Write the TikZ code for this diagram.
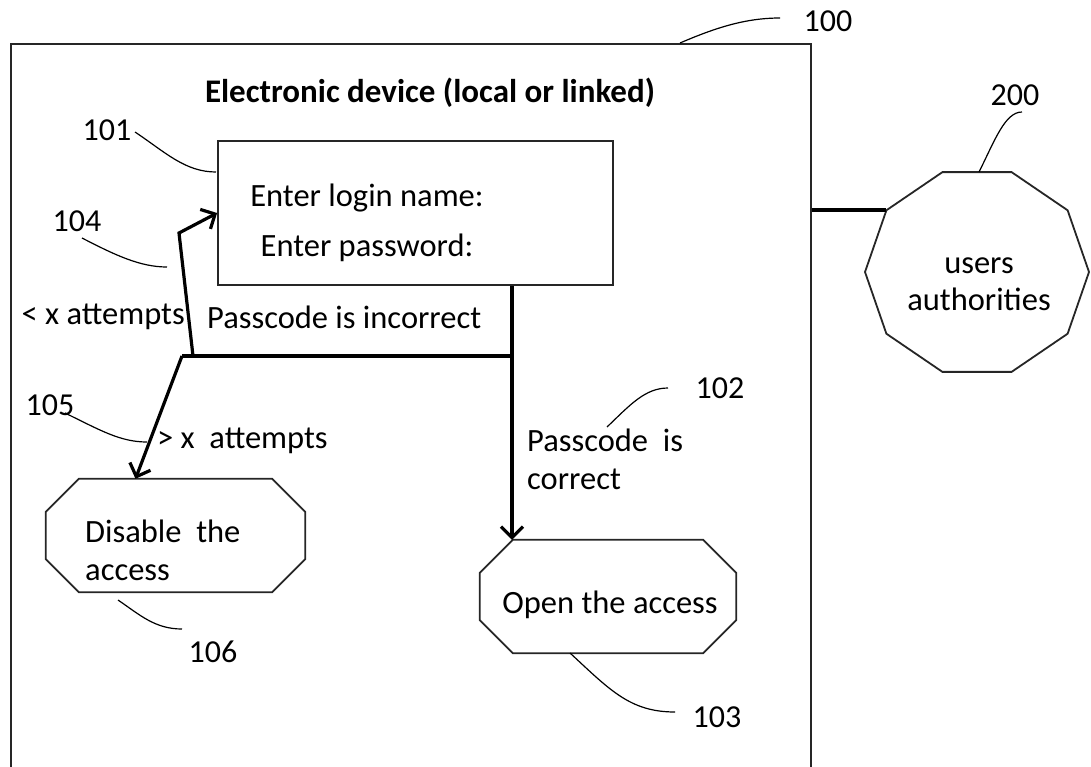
\documentclass[tikz,border=0pt]{standalone}
\usepackage{fontspec}
\setmainfont{Carlito}
\usetikzlibrary{calc,arrows.meta}

\tikzset{
  txt/.style={font=\fontsize{32.5}{50}\selectfont, inner sep=0pt},
  txtl/.style={font=\fontsize{32.5}{38}\selectfont, inner sep=0pt, align=left, anchor=west},
  refnum/.style={font=\fontsize{32}{36}\selectfont, inner sep=0pt},
  box/.style={draw=black!85, line width=1.8pt, fill=white},
  octo/.style={inner sep=0pt},
  flow/.style={line width=3.2pt, -{Straight Barb[length=11pt,width=22pt]}},
  joint/.style={line width=3.2pt},
  link/.style={line width=4pt},
  leader/.style={line width=1.2pt}
}
% octagon drawn round a node, #2 = size of the cut corners
\newcommand\chamferbox[2]{%
  \draw[box] ([xshift=#2]#1.north west) -- ([xshift=-#2]#1.north east)
    -- ([yshift=-#2]#1.north east) -- ([yshift=#2]#1.south east)
    -- ([xshift=-#2]#1.south east) -- ([xshift=#2]#1.south west)
    -- ([yshift=#2]#1.south west) -- ([yshift=-#2]#1.north west) -- cycle;}

\begin{document}
\begin{tikzpicture}[x=1pt, y=-1pt]
  \useasboundingbox (0,0) rectangle (1091,766);
  % device frame (its bottom edge runs off the page)
  \node[box, fill=none, minimum width=800pt, minimum height=800pt, anchor=north west] (device) at (10,43) {};
  \node[txt, font=\fontsize{33}{40}\selectfont\bfseries] (devtitle) at (430,93) {Electronic device (local or linked)};
  % login box
  \node[box, minimum width=395pt, minimum height=144pt] (login) at (415.5,213) {};
  \node[txt, align=center] (prompt) at (367,223) {Enter login name:\\Enter password:};
  % outcomes
  \node[octo, minimum width=259pt, minimum height=113pt] (disable) at (175.5,535.5) {};
  \chamferbox{disable}{33pt}
  \node[txtl] (disabletxt) at (85,550) {Disable\ \ the\\access};
  \node[octo, minimum width=256pt, minimum height=113pt] (open) at (608,596.5) {};
  \chamferbox{open}{33pt}
  \node[txt] (opentxt) at (610,605) {Open the access};
  % users authorities
  \coordinate (auth) at (977,272);
  \draw[box] ([shift={(0:112pt and 105pt)}]auth) \foreach \a in {36,72,...,324}{ -- ([shift={(\a:112pt and 105pt)}]auth)} -- cycle;
  \node[txt, font=\fontsize{32.5}{37}\selectfont, align=center] (authtxt) at (979,284) {users\\authorities};
  \coordinate (authv) at ([shift={(144:112pt and 105pt)}]auth);

  % flow lines
  \coordinate (jl) at (182,356);
  \coordinate (jr) at (512,356);
  \coordinate (ju) at (193,356);
  \coordinate (bend) at (179,233);
  \draw[joint] (jl) -- (jr);
  \draw[flow] (login.south -| jr) -- (jr |- open.north);
  \draw[flow] (ju) -- (bend) -- (login.west);
  \draw[flow] (jl) -- ([xshift=-40pt]disable.north);
  \draw[link] (device.east |- authv) -- (authv);
  % flow labels
  \node[txt, anchor=east] (fewer) at (185,317) {< x attempts};
  \node[txt, anchor=west] (wrong) at (207,317) {Passcode is incorrect};
  \node[txt, anchor=west] (more) at (157,441) {> x\ \ attempts};
  \node[txtl] (right) at (527,459) {Passcode\ \ is\\correct};

  % reference numerals
  \node[refnum] (r100) at (828,21) {100};
  \node[refnum] (r101) at (107,130) {101};
  \node[refnum] (r102) at (720,388) {102};
  \node[refnum] (r103) at (717,717) {103};
  \node[refnum] (r104) at (77,221) {104};
  \node[refnum] (r105) at (50,405) {105};
  \node[refnum] (r106) at (213,652) {106};
  \node[refnum] (r200) at (1015,95) {200};
  % leaders
  \draw[leader] (680,43) .. controls (715,28) and (745,18) .. (780,18);
  \draw[leader] (135,132) .. controls (165,152) and (185,172) .. (216,172);
  \draw[leader] (82,238) .. controls (115,255) and (140,267) .. (167,267);
  \draw[leader] (65,413) .. controls (100,430) and (120,442) .. (147,442);
  \draw[leader] (118,600) .. controls (140,615) and (155,629) .. (182,629);
  \draw[leader] (607,427) .. controls (630,405) and (645,388) .. (668,388);
  \draw[leader] (570,653) .. controls (610,690) and (630,712) .. (675,712);
  \draw[leader] (979,172) .. controls (995,140) and (1005,112) .. (1022,112);
\end{tikzpicture}
\end{document}
